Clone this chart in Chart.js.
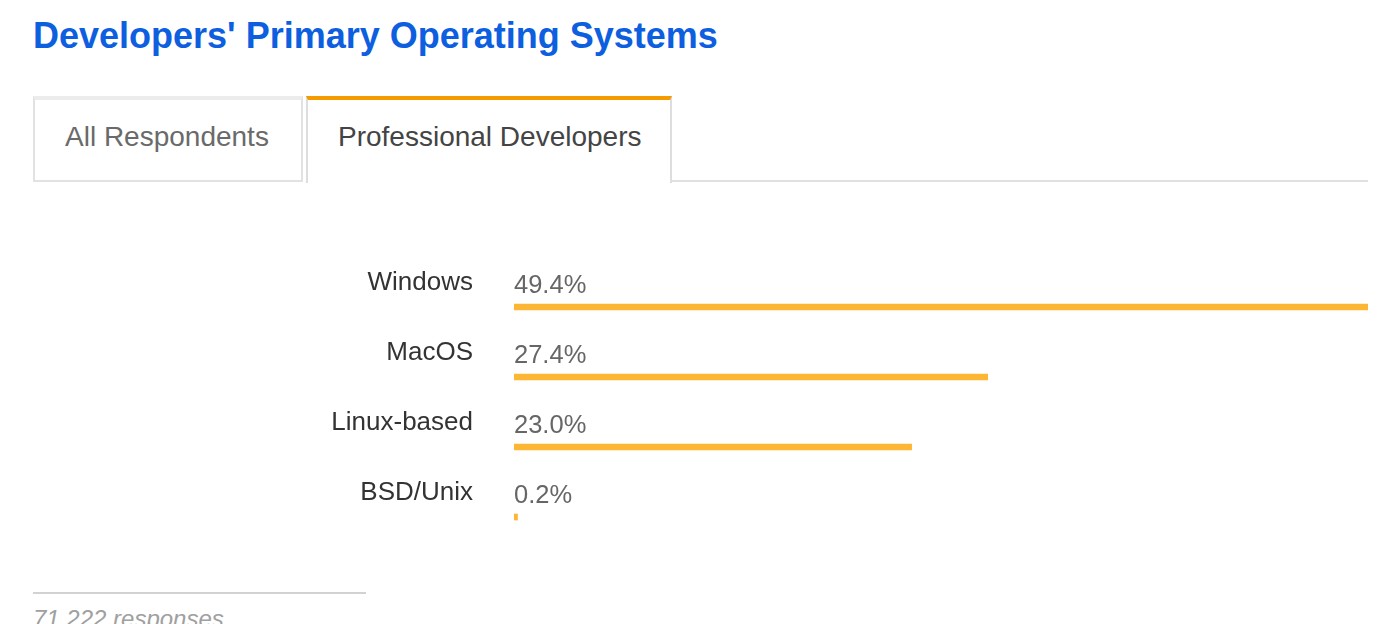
<!DOCTYPE html>
<html>
<head>
<meta charset="utf-8">
<script src="https://cdn.jsdelivr.net/npm/chart.js@4.4.1/dist/chart.umd.min.js"></script>
<style>
  html, body { margin: 0; padding: 0; background: #fff; width: 1394px; height: 624px; overflow: hidden; position: relative; font-family: "Liberation Sans", Arial, Helvetica, sans-serif; }
  #title { position: absolute; left: 33px; top: 18px; font-size: 36px; line-height: 36px; font-weight: bold; color: #0d5fe0; white-space: nowrap; }
  .tab { position: absolute; box-sizing: border-box; font-size: 28px; line-height: 28px; white-space: nowrap; }
  #tab1 { left: 33px; top: 96px; width: 270px; height: 86px; border: 2px solid #e2e2e2; border-top: 4px solid #ececec; color: #6a6a6a; padding: 23px 0 0 30px; }
  #tab2 { left: 306px; top: 96px; width: 366px; height: 87px; border-left: 2px solid #dddddd; border-right: 2px solid #dddddd; border-top: 4px solid #f59b00; color: #444; padding: 23px 0 0 30px; background: #fff; }
  #baseline { position: absolute; left: 670px; top: 180px; width: 698px; height: 2px; background: #e0e0e0; }
  #chartwrap { position: absolute; left: 0; top: 240px; width: 1394px; height: 332px; }
  #footline { position: absolute; left: 33px; top: 592px; width: 333px; height: 2px; background: #d2d2d2; }
  #foottext { position: absolute; left: 33px; top: 607px; font-size: 24px; line-height: 24px; font-style: italic; color: #a0a0a0; white-space: nowrap; }
</style>
</head>
<body>
<div id="title">Developers' Primary Operating Systems</div>
<div class="tab" id="tab1">All Respondents</div>
<div class="tab" id="tab2">Professional Developers</div>
<div id="baseline"></div>
<div id="chartwrap"><canvas id="c"></canvas></div>
<div id="footline"></div>
<div id="foottext">71,222 responses</div>
<script>
const categories = ["Windows", "MacOS", "Linux-based", "BSD/Unix"];
const shares = [49.4, 27.4, 23.0, 0.2];
const valueLabels = ["49.4%", "27.4%", "23.0%", "0.2%"];

const rowLabelPlugin = {
  id: 'rowLabels',
  afterDatasetsDraw(chart) {
    const ctx = chart.ctx;
    const x = chart.scales.x;
    const y = chart.scales.y;
    const x0 = x.getPixelForValue(0);
    ctx.save();
    ctx.textBaseline = 'alphabetic';
    categories.forEach((c, i) => {
      const yc = y.getPixelForValue(i);
      ctx.font = '26px "Liberation Sans", Arial, sans-serif';
      ctx.fillStyle = '#333333';
      ctx.textAlign = 'right';
      ctx.fillText(c, x0 - 41, yc - 17);
      ctx.font = '25.5px "Liberation Sans", Arial, sans-serif';
      ctx.fillStyle = '#666666';
      ctx.textAlign = 'left';
      ctx.fillText(valueLabels[i], x0, yc - 14);
    });
    ctx.restore();
  }
};

new Chart(document.getElementById('c'), {
  type: 'bar',
  data: {
    labels: categories,
    datasets: [{
      data: shares,
      backgroundColor: '#fdb634',
      borderWidth: 0,
      barThickness: 6,
      minBarLength: 2
    }]
  },
  options: {
    indexAxis: 'y',
    responsive: true,
    maintainAspectRatio: false,
    animation: false,
    layout: { padding: { top: 32, bottom: 20, right: 26, left: 514 } },
    plugins: { legend: { display: false }, tooltip: { enabled: false } },
    scales: {
      x: { display: false, min: 0, max: 49.4 },
      y: { display: false }
    }
  },
  plugins: [rowLabelPlugin]
});
</script>
</body>
</html>
